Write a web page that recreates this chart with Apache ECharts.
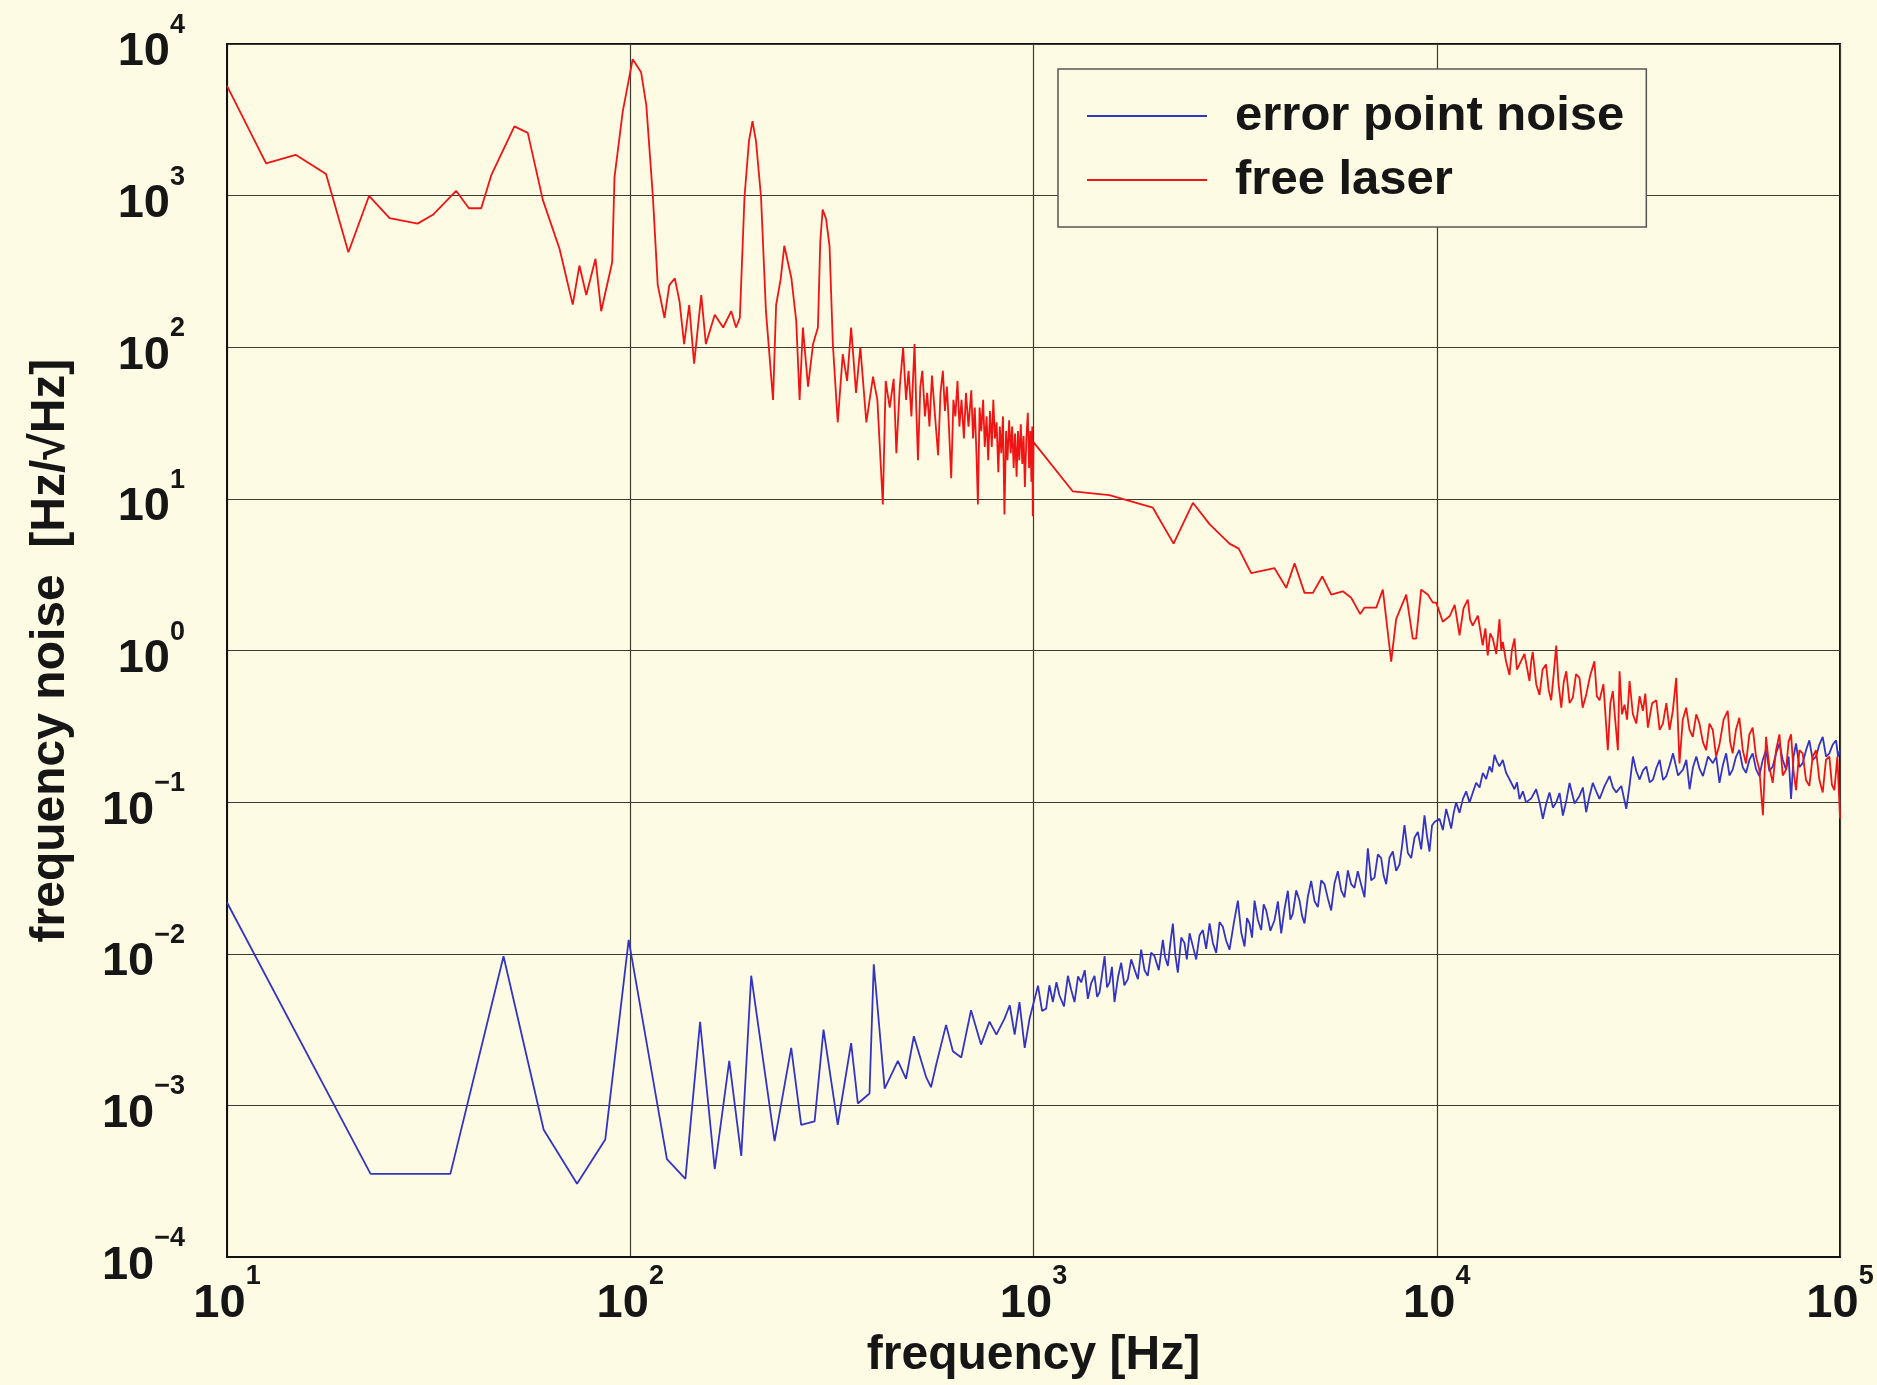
<!DOCTYPE html>
<html>
<head>
<meta charset="utf-8">
<script src="https://cdn.jsdelivr.net/npm/echarts@6/dist/echarts.min.js"></script>
<style>
  html, body { margin: 0; padding: 0; background: #fdfbe3; }
  #chart { width: 1877px; height: 1385px; }
</style>
</head>
<body>
<div id="chart"></div>
<script>
// ---- Data (frequency [Hz], frequency noise [Hz/sqrt(Hz)]) ----
var laserLow = [
  [10, 5300], [12.5, 1630], [14.8, 1860], [17.6, 1390], [20.0, 423], [22.5, 995], [25.3, 711],
  [29.7, 654], [32.4, 748], [37.0, 1076], [39.8, 826], [42.7, 826], [45.2, 1360], [51.6, 2860],
  [55.7, 2594], [60.7, 938], [66.8, 445], [72.0, 191], [74.8, 346], [77.8, 221], [82.0, 383],
  [84.7, 173], [90.2, 364], [91.4, 1325], [95.8, 3580], [101.4, 7940], [106.4, 6510], [109.6, 3950],
  [113.8, 985], [117, 257], [121.6, 156], [125, 257], [129, 285], [132.5, 200], [136, 105],
  [140, 190], [144, 78], [150, 221], [154, 105], [162, 164], [170, 135], [178, 173], [183, 135],
  [187, 157], [192, 980], [197, 2300], [201, 3100], [205, 2300], [211, 980], [217, 173], [226, 45],
  [230, 190], [236, 280], [241, 467], [251, 285], [258, 149], [263, 45], [268, 135], [276, 55],
  [284, 105], [292, 135], [296, 500], [300, 810], [306, 700], [312, 467], [318, 105], [327, 32],
  [336.5, 90], [345, 60], [353, 135], [363, 50], [372, 100], [385, 32]
];
var laserMid = [
  [400, 64], [410, 45], [423, 9.2], [430, 60], [440, 40], [450, 62], [457, 20], [466, 55],
  [475, 100], [483, 45], [490, 70], [498, 35], [507, 105], [512, 40], [517, 18], [524, 55],
  [530, 70], [538, 35], [545, 50], [552, 30], [560, 65], [570, 35], [580, 19.4], [588, 50],
  [596, 70], [603, 38], [610, 55], [617, 30], [625, 13.7], [633, 45], [640, 35], [648, 60],
  [655, 30], [663, 45], [672, 25], [680, 50], [690, 30], [701, 52], [708, 25], [715, 40],
  [722, 20], [728, 9.2], [735, 40], [742, 28], [750, 45], [757, 22], [765, 35], [772, 18],
  [780, 38], [788, 22], [795, 45], [802, 25], [810, 32], [818, 15], [825, 30], [832, 20],
  [840, 35], [847, 7.9], [855, 28], [862, 18], [870, 33], [878, 20], [885, 30], [893, 16],
  [900, 27], [908, 14], [915, 28], [922, 18], [930, 31], [938, 17], [945, 26], [952, 12],
  [960, 25], [968, 37], [975, 16], [982, 28], [988, 13], [993, 30], [996, 7.7], [1000, 23.7]
];
var laserUpper = [
  [1252, 11.2], [1542, 10.6], [1977, 8.75], [2225, 5.07], [2485, 9.43], [2732, 6.82],
  [3062, 5.07], [3228, 4.70], [3466, 3.24], [3960, 3.49], [4235, 2.59], [4440, 3.76],
  [4700, 2.40], [4930, 2.40], [5200, 3.08], [5475, 2.34], [5850, 2.46], [6135, 2.23],
  [6460, 1.74], [6620, 1.92], [7080, 1.92], [7350, 2.52], [7710, 0.845], [7930, 1.61],
  [8400, 2.34], [8720, 1.20], [8890, 1.20], [9150, 2.52], [9500, 2.34], [9780, 2.07]
];
var laserHigh = [
  [9970, 2.07], [10350, 1.55], [10770, 1.69], [11080, 2.0], [11390, 1.26], [11650, 1.9],
  [11940, 2.17], [12100, 1.6], [12280, 1.46], [12650, 1.7], [13000, 1.08], [13200, 1.4],
  [13380, 0.93], [13570, 1.3], [13770, 1.20], [14050, 0.95], [14310, 1.61], [14450, 1.0],
  [14580, 1.14], [14850, 0.85], [15150, 0.69], [15350, 1.0], [15590, 1.20], [15800, 0.75],
  [16040, 0.81], [16500, 0.95], [16980, 0.63], [17150, 0.85], [17300, 0.98], [17650, 0.6],
  [17980, 0.51], [18300, 0.75], [18660, 0.81], [18950, 0.55], [19220, 0.47], [19500, 0.7],
  [19780, 1.08], [20050, 0.6], [20360, 0.42], [20650, 0.62], [20950, 0.73], [21350, 0.45],
  [21750, 0.49], [22150, 0.7], [22590, 0.66], [23000, 0.42], [23470, 0.51], [24000, 0.68],
  [24600, 0.85], [24950, 0.5], [25330, 0.47], [25900, 0.6], [26560, 0.22], [26950, 0.45],
  [27330, 0.54], [27700, 0.35], [28130, 0.22], [28400, 0.73], [28800, 0.38], [29220, 0.44],
  [29650, 0.35], [30070, 0.63], [30650, 0.38], [31240, 0.33], [31850, 0.5], [32450, 0.40],
  [32900, 0.52], [33390, 0.31], [34200, 0.45], [35030, 0.47], [35700, 0.3], [36380, 0.33],
  [37100, 0.45], [37790, 0.30], [38500, 0.4], [39250, 0.66], [39990, 0.18], [40750, 0.35],
  [41540, 0.42], [42350, 0.3], [43150, 0.27], [44000, 0.38], [44820, 0.33], [45700, 0.25],
  [46560, 0.22], [47450, 0.33], [48360, 0.30], [49300, 0.2], [50240, 0.24], [51450, 0.35],
  [52670, 0.40], [53400, 0.25], [54180, 0.21], [55200, 0.3], [56290, 0.36], [57400, 0.22],
  [58470, 0.18], [59600, 0.28], [60740, 0.31], [61900, 0.2], [63100, 0.164], [64400, 0.082],
  [65550, 0.27], [66800, 0.17], [68100, 0.134], [69400, 0.22], [70750, 0.28], [72100, 0.15],
  [73500, 0.164], [74550, 0.25], [75620, 0.28], [76700, 0.16], [77800, 0.12], [79300, 0.22],
  [80800, 0.21], [82350, 0.14], [83940, 0.128], [85550, 0.2], [87200, 0.22], [88900, 0.14],
  [90600, 0.116], [92300, 0.19], [94100, 0.20], [95500, 0.13], [96850, 0.12], [98500, 0.2],
  [100000, 0.078]
];

var errorLow = [
  [10, 0.0218], [22.7, 3.54e-4], [35.8, 3.54e-4], [48.5, 9.64e-3], [61, 6.92e-4], [73.8, 3.05e-4],
  [86.7, 5.96e-4], [99.1, 0.01236], [123.3, 4.43e-4], [137, 3.28e-4], [149, 3.56e-3], [162, 3.81e-4],
  [176, 1.97e-3], [188.5, 4.65e-4], [199.5, 7.17e-3], [228, 5.82e-4], [250.7, 2.40e-3],
  [265.4, 7.46e-4], [286.5, 7.84e-4], [301.5, 3.16e-3], [327, 7.46e-4], [353, 2.58e-3],
  [366.8, 1.03e-3], [392, 1.20e-3], [401.7, 8.53e-3], [427.5, 1.29e-3], [461, 1.97e-3],
  [483, 1.50e-3], [505, 2.86e-3], [542, 1.53e-3], [557, 1.32e-3], [574, 1.87e-3], [607, 3.40e-3],
  [631, 2.28e-3], [662, 2.07e-3], [700, 4.25e-3], [741, 2.52e-3], [778, 3.57e-3], [809, 2.93e-3],
  [848, 3.75e-3], [873, 4.58e-3], [898, 2.93e-3], [923, 4.81e-3], [951, 2.40e-3], [978, 3.75e-3]
];
var errorMid = [
  [1026, 6.17e-3], [1050, 0.0042], [1075, 0.00435], [1095, 0.0062], [1117, 0.00481], [1140, 0.0065],
  [1160, 0.00531], [1190, 0.0045], [1217, 0.00716], [1240, 0.0058], [1264, 0.00481], [1290, 0.0071],
  [1313, 0.00648], [1340, 0.0078], [1364, 0.00505], [1390, 0.0064], [1417, 0.00716], [1438, 0.0052],
  [1458, 0.00558], [1480, 0.0074], [1501, 0.00965], [1522, 0.0060], [1544, 0.00648], [1565, 0.0082],
  [1588, 0.00481], [1620, 0.0070], [1650, 0.00873], [1680, 0.0062], [1714, 0.00681], [1747, 0.0092],
  [1780, 0.00790], [1815, 0.0068], [1849, 0.01066], [1885, 0.0078], [1920, 0.00716], [1958, 0.0102],
  [1996, 0.00965], [2045, 0.0078], [2093, 0.01236], [2120, 0.0095], [2154, 0.00831], [2185, 0.0118],
  [2216, 0.01585], [2248, 0.0098], [2280, 0.00752], [2325, 0.0128], [2369, 0.01176], [2400, 0.0092],
  [2438, 0.01365], [2485, 0.0112], [2532, 0.00918], [2580, 0.0132], [2630, 0.01435], [2680, 0.0108],
  [2733, 0.01585], [2785, 0.0118], [2838, 0.01013], [2893, 0.0162], [2948, 0.01509], [3005, 0.0122],
  [3063, 0.01066], [3137, 0.0158], [3212, 0.02245], [3275, 0.0138], [3337, 0.01119], [3385, 0.0172],
  [3433, 0.01585], [3483, 0.0128], [3533, 0.02245], [3600, 0.0168], [3669, 0.01435], [3722, 0.0212],
  [3776, 0.01934], [3868, 0.0142], [3960, 0.01666], [4037, 0.0222], [4114, 0.01365], [4193, 0.0198],
  [4273, 0.02606], [4335, 0.0168], [4397, 0.01840], [4482, 0.0262], [4568, 0.02245], [4634, 0.0178],
  [4700, 0.01585], [4790, 0.0238], [4882, 0.03025], [4977, 0.0222], [5072, 0.02032], [5170, 0.0305],
  [5268, 0.02878], [5370, 0.0232], [5472, 0.01934], [5578, 0.0292], [5684, 0.0351], [5795, 0.0262],
  [5905, 0.0236], [6020, 0.0355], [6134, 0.02878], [6250, 0.0272], [6371, 0.0351], [6495, 0.0285],
  [6620, 0.0236], [6747, 0.0497], [6877, 0.0305], [7008, 0.0318], [7145, 0.0452], [7281, 0.0428],
  [7386, 0.0328], [7492, 0.02878], [7637, 0.0432], [7782, 0.0473], [7933, 0.0352], [8084, 0.0388],
  [8200, 0.0512], [8318, 0.0705], [8480, 0.0462], [8643, 0.0428], [8810, 0.0585], [8978, 0.0637],
  [9150, 0.0488], [9325, 0.0818], [9460, 0.0598], [9595, 0.0473], [9733, 0.0702], [9872, 0.0740]
];
var errorHigh = [
  [10158, 0.0778], [10355, 0.0655], [10553, 0.0903], [10705, 0.0782], [10858, 0.0670], [11015, 0.085],
  [11170, 0.0997], [11390, 0.085], [11606, 0.1048], [11830, 0.118], [12056, 0.0997], [12290, 0.116],
  [12525, 0.1344], [12770, 0.125], [13010, 0.156], [13260, 0.142], [13515, 0.1723], [13710, 0.158],
  [13906, 0.205], [14100, 0.185], [14306, 0.1723], [14580, 0.19], [14862, 0.156], [15225, 0.138],
  [15588, 0.1217], [15815, 0.135], [16040, 0.1048], [16350, 0.118], [16660, 0.0997], [17150, 0.106],
  [17640, 0.1217], [17985, 0.1], [18330, 0.0778], [18685, 0.098], [19040, 0.116], [19410, 0.092],
  [19780, 0.0997], [20165, 0.115], [20550, 0.0817], [20950, 0.102], [21350, 0.134], [21970, 0.098],
  [22590, 0.110], [23030, 0.125], [23470, 0.0859], [23925, 0.11], [24380, 0.134], [24855, 0.118],
  [25330, 0.105], [26080, 0.128], [26830, 0.1486], [27350, 0.125], [27870, 0.116], [28690, 0.128],
  [29510, 0.0903], [30085, 0.13], [30660, 0.200], [31255, 0.16], [31850, 0.141], [32470, 0.162],
  [33090, 0.172], [33735, 0.135], [34380, 0.141], [35045, 0.168], [35710, 0.19], [36405, 0.14],
  [37100, 0.1486], [37820, 0.175], [38540, 0.21], [39665, 0.15], [40790, 0.164], [41580, 0.19],
  [42370, 0.1217], [43195, 0.17], [44020, 0.200], [44875, 0.165], [45730, 0.1486], [47070, 0.2],
  [48410, 0.181], [49325, 0.2], [50240, 0.134], [51220, 0.175], [52200, 0.21], [53190, 0.15],
  [54180, 0.164], [55235, 0.2], [56290, 0.221], [57380, 0.17], [58470, 0.156], [59605, 0.19],
  [60740, 0.21], [61920, 0.165], [63100, 0.1486], [64325, 0.19], [65550, 0.221], [66825, 0.16],
  [68100, 0.172], [69425, 0.21], [70750, 0.244], [72125, 0.19], [73500, 0.164], [74560, 0.2],
  [75620, 0.105], [76710, 0.2], [77800, 0.244], [79300, 0.17], [80800, 0.181], [82370, 0.22],
  [83940, 0.256], [85570, 0.19], [87200, 0.200], [88900, 0.24], [90600, 0.27], [92350, 0.2],
  [94100, 0.21], [95950, 0.24], [97800, 0.256], [98900, 0.2], [100000, 0.221]
];

var seriesNames = ['error point noise', 'free laser'];
var xAxisTitle = 'frequency [Hz]';
var yAxisTitle = 'frequency noise  [Hz/\u221AHz]';

// ---- Chart ----
var BG = '#fdfbe3';
var FONT = '"Liberation Sans", Arial, Helvetica, sans-serif';
var INK = '#161616';

function powLabel(v) {
  var e = Math.round(Math.log10(v));
  var s = e < 0 ? '\u2212' + (-e) : String(e);
  return '{b|10}{s|' + s + '}';
}
var richPow = {
  b: { fontSize: 47, fontWeight: 'bold', fontFamily: FONT, color: INK, lineHeight: 64, verticalAlign: 'bottom' },
  s: { fontSize: 27, fontWeight: 'bold', fontFamily: FONT, color: INK, lineHeight: 27, verticalAlign: 'top' }
};

var chart = echarts.init(document.getElementById('chart'), null, { renderer: 'canvas' });
chart.setOption({
  backgroundColor: BG,
  animation: false,
  grid: {
    left: 227, top: 44, width: 1613, height: 1235,
    show: true, borderColor: '#111', borderWidth: 2, backgroundColor: 'transparent'
  },
  legend: {
    data: seriesNames,
    orient: 'vertical',
    left: 1058, top: 69,
    padding: [22, 22, 22, 29],
    itemGap: 14,
    itemWidth: 120,
    itemHeight: 2,
    icon: 'rect',
    backgroundColor: BG,
    borderColor: '#555',
    borderWidth: 1.5,
    textStyle: { fontSize: 49, fontWeight: 'bold', fontFamily: FONT, color: INK, lineHeight: 50, padding: [0, 0, 0, 23] }
  },
  xAxis: {
    type: 'log', logBase: 10, min: 10, max: 100000, splitNumber: 4,
    name: xAxisTitle, nameLocation: 'middle', nameGap: 42,
    nameTextStyle: { fontSize: 48, fontWeight: 'bold', fontFamily: FONT, color: INK },
    axisLine: { show: true, lineStyle: { color: '#111', width: 2 } },
    axisTick: { show: false },
    minorTick: { show: false },
    splitLine: { show: true, lineStyle: { color: '#3c3c34', width: 1.2 } },
    axisLabel: { formatter: powLabel, rich: richPow, margin: 6 }
  },
  yAxis: {
    type: 'log', logBase: 10, min: 1e-4, max: 1e4, splitNumber: 8,
    name: yAxisTitle, nameLocation: 'middle', nameGap: 152, nameRotate: 90,
    nameTextStyle: { fontSize: 48, fontWeight: 'bold', fontFamily: FONT, color: INK },
    axisLine: { show: true, lineStyle: { color: '#111', width: 2 } },
    axisTick: { show: false },
    minorTick: { show: false },
    splitLine: { show: true, lineStyle: { color: '#3c3c34', width: 1.2 } },
    axisLabel: { formatter: powLabel, rich: richPow, margin: 42 }
  },
  series: [
    {
      name: seriesNames[0], type: 'line', showSymbol: false, symbol: 'none',
      data: errorLow.concat(errorMid, errorHigh),
      lineStyle: { color: '#3434c4', width: 1.8 },
      itemStyle: { color: '#3434c4' }
    },
    {
      name: seriesNames[1], type: 'line', showSymbol: false, symbol: 'none',
      data: laserLow.concat(laserMid, laserUpper, laserHigh),
      lineStyle: { color: '#f01414', width: 1.8 },
      itemStyle: { color: '#f01414' }
    }
  ]
});
</script>
</body>
</html>
